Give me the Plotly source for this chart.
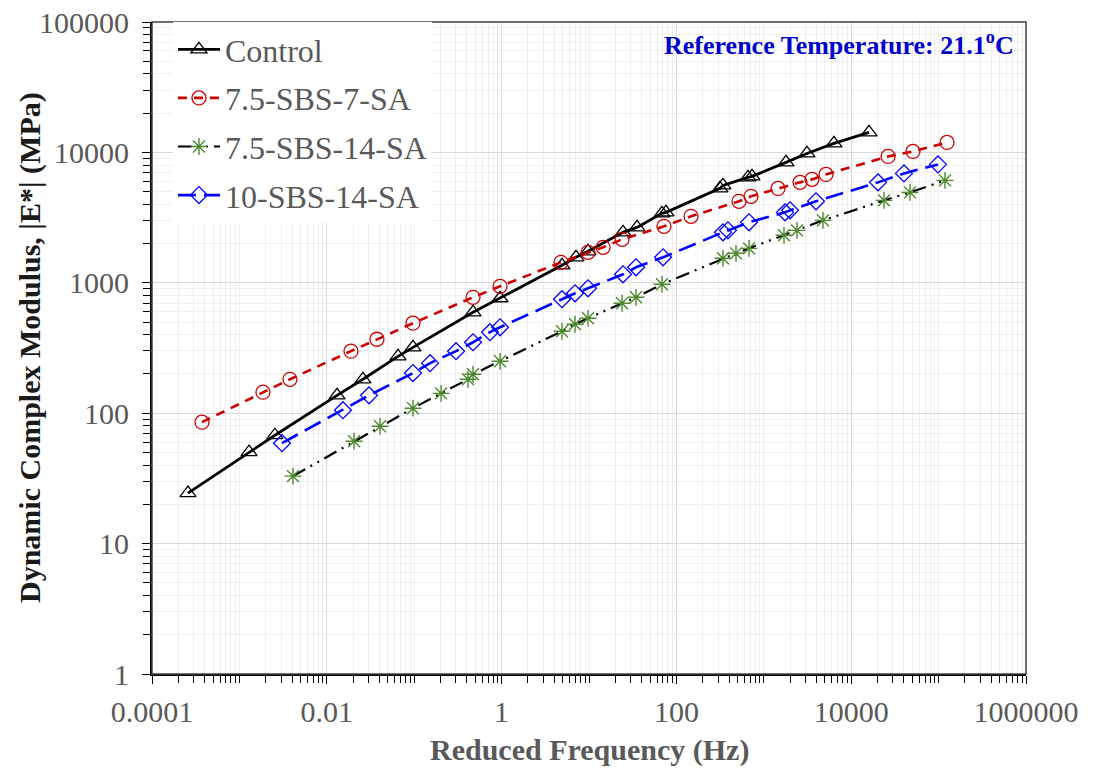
import plotly.graph_objects as go

# ---- data (reduced frequency in Hz, |E*| in MPa) ----
control_f = [2.58e-4, 1.29e-3, 2.55e-3, 0.0131, 0.0259, 0.0653, 0.0968, 0.471, 0.960,
             4.91, 7.10, 9.74, 24.5, 35.4, 68.4, 76.0, 315, 341, 659, 733, 1795, 3120, 6350, 16000]
control_E = [24.4, 50.3, 67.8, 137, 182, 273, 320, 594, 761,
             1361, 1568, 1743, 2438, 2662, 3411, 3468, 5297, 5585, 6430, 6548, 8380, 9820, 11720, 14230]

sbs7_f = [3.73e-4, 1.86e-3, 3.79e-3, 0.0189, 0.0375, 0.0968, 0.471, 0.960,
          4.78, 9.74, 14.5, 23.9, 72.1, 147, 520, 714, 1453, 2597, 3558, 5150, 26400, 50900, 124800]
sbs7_E = [85.3, 145, 182, 299, 369, 490, 774, 940,
          1435, 1713, 1871, 2154, 2710, 3234, 4216, 4603, 5297, 5891, 6210, 6780, 9320, 10180, 11930]

sbs14_f = [4.10e-3, 0.0205, 0.0407, 0.0968, 0.203, 0.413, 0.471, 0.960,
           4.91, 6.92, 9.74, 23.9, 34.5, 68.4, 341, 481, 677, 1702, 2399, 4755, 23730, 47100, 118300]
sbs14_E = [32.9, 61.0, 79.5, 109.2, 142, 182, 199, 250,
           425, 481, 535, 697, 774, 974, 1541, 1683, 1837, 2313, 2525, 3013, 4285, 4932, 6100]

sbs10_f = [3.07e-3, 0.0153, 0.0304, 0.0968, 0.152, 0.301, 0.471, 0.736, 0.960,
           4.91, 6.92, 9.74, 24.5, 34.5, 70.3, 341, 389, 677, 1750, 1995, 3956, 20270, 40180, 98400]
sbs10_E = [58.9, 105.4, 137, 203, 242, 299, 350, 418, 456,
           748, 831, 908, 1162, 1315, 1568, 2438, 2525, 2911, 3468, 3594, 4216, 5891, 6900, 8090]

series_names = ["Control", "7.5-SBS-7-SA", "7.5-SBS-14-SA", "10-SBS-14-SA"]

x_tickvals = [1e-4, 1e-2, 1, 1e2, 1e4, 1e6]
x_ticktext = ["0.0001", "0.01", "1", "100", "10000", "1000000"]
y_tickvals = [1, 10, 100, 1000, 10000, 100000]
y_ticktext = ["1", "10", "100", "1000", "10000", "100000"]

x_minor = [m * 10.0 ** e for e in range(-4, 6) for m in range(2, 11) if m * 10.0 ** e not in x_tickvals]
y_minor = [m * 10.0 ** e for e in range(0, 5) for m in range(2, 10)]

FONT = "Liberation Serif, Times New Roman, serif"
GRAY = "#595959"

fig = go.Figure()

fig.add_trace(go.Scatter(
    x=control_f, y=control_E, name=series_names[0], mode="lines+markers", legendgroup="a",
    line=dict(color="black", width=2.8),
    marker=dict(symbol="triangle-up-open", size=14, color="black", line=dict(width=1.3))))
fig.add_trace(go.Scatter(
    x=sbs7_f, y=sbs7_E, name=series_names[1], mode="lines+markers", legendgroup="b",
    line=dict(color="#CC0000", width=2.6, dash="9px,7px"),
    marker=dict(symbol="circle-open", size=14, color="#CC0000", line=dict(width=1.3))))
fig.add_trace(go.Scatter(
    x=sbs14_f, y=sbs14_E, name=series_names[2], mode="lines+markers", legendgroup="c",
    line=dict(color="black", width=2.2, dash="14px,6px,2px,6px,2px,6px"),
    marker=dict(symbol="asterisk-open", size=14, color="#4E8A30", line=dict(width=1.4, color="#4E8A30"))))
fig.add_trace(go.Scatter(
    x=sbs10_f, y=sbs10_E, name=series_names[3], mode="lines+markers", legendgroup="d",
    line=dict(color="#0000FF", width=2.6, dash="18px,8px"),
    marker=dict(symbol="diamond-open", size=13, color="#0000FF", line=dict(width=1.3))))

fig.update_xaxes(
    type="log", range=[-4, 6],
    tickvals=x_tickvals, ticktext=x_ticktext,
    showline=True, linecolor="black", linewidth=2,
    ticks="outside", ticklen=8, tickcolor="black", tickwidth=1,
    showgrid=True, gridcolor="#d9d9d9", gridwidth=1.3, zeroline=False,
    tickfont=dict(family=FONT, size=30, color=GRAY), ticklabelstandoff=2,
    ticklabeloverflow="allow",
    minor=dict(tickvals=x_minor, ticks="outside", ticklen=7, tickcolor="black",
               showgrid=True, gridcolor="#efefef", gridwidth=1),
)
fig.update_yaxes(
    type="log", range=[0, 5],
    tickvals=y_tickvals, ticktext=y_ticktext,
    showline=True, linecolor="black", linewidth=2,
    ticks="outside", ticklen=8, tickcolor="black", tickwidth=1,
    showgrid=True, gridcolor="#d9d9d9", gridwidth=1.3, zeroline=False,
    tickfont=dict(family=FONT, size=30, color=GRAY), ticklabelstandoff=7,
    ticklabeloverflow="allow",
    minor=dict(tickvals=y_minor, ticks="outside", ticklen=7, tickcolor="black",
               showgrid=True, gridcolor="#efefef", gridwidth=1),
)

fig.add_shape(type="rect", xref="paper", yref="paper", x0=0, y0=0, x1=1, y1=1,
              line=dict(color="#404040", width=1.5), layer="above")

fig.add_annotation(text="<b>Reference Temperature: 21.1<sup>o</sup>C</b>",
                   xref="paper", yref="paper", x=0.988, y=0.995, xanchor="right", yanchor="top",
                   showarrow=False, font=dict(family=FONT, size=26, color="#0000CC"))
fig.add_annotation(text="<b>Dynamic Complex Modulus, |E*| (MPa)</b>",
                   xref="paper", yref="paper", x=0, y=0.5, xshift=-122, xanchor="center",
                   yanchor="middle", textangle=-90, showarrow=False,
                   font=dict(family=FONT, size=30, color="#1a1a1a"))
fig.add_annotation(text="<b>Reduced Frequency (Hz)</b>",
                   xref="paper", yref="paper", x=0.5, y=0, yshift=-76, xanchor="center",
                   yanchor="middle", showarrow=False,
                   font=dict(family=FONT, size=30, color=GRAY))

# page body has an 8px margin, so the figure is 8px smaller and margins shifted
fig.update_layout(
    width=1085, height=764,
    margin=dict(l=144, r=67, t=14, b=98, autoexpand=False),
    paper_bgcolor="white", plot_bgcolor="white",
    showlegend=True,
    legend=dict(x=0.024, y=1.0, xanchor="left", yanchor="top",
                bgcolor="white", borderwidth=0, itemwidth=42,
                font=dict(family=FONT, size=32, color=GRAY),
                tracegroupgap=4, itemclick=False),
)

fig.write_html("out.html")
